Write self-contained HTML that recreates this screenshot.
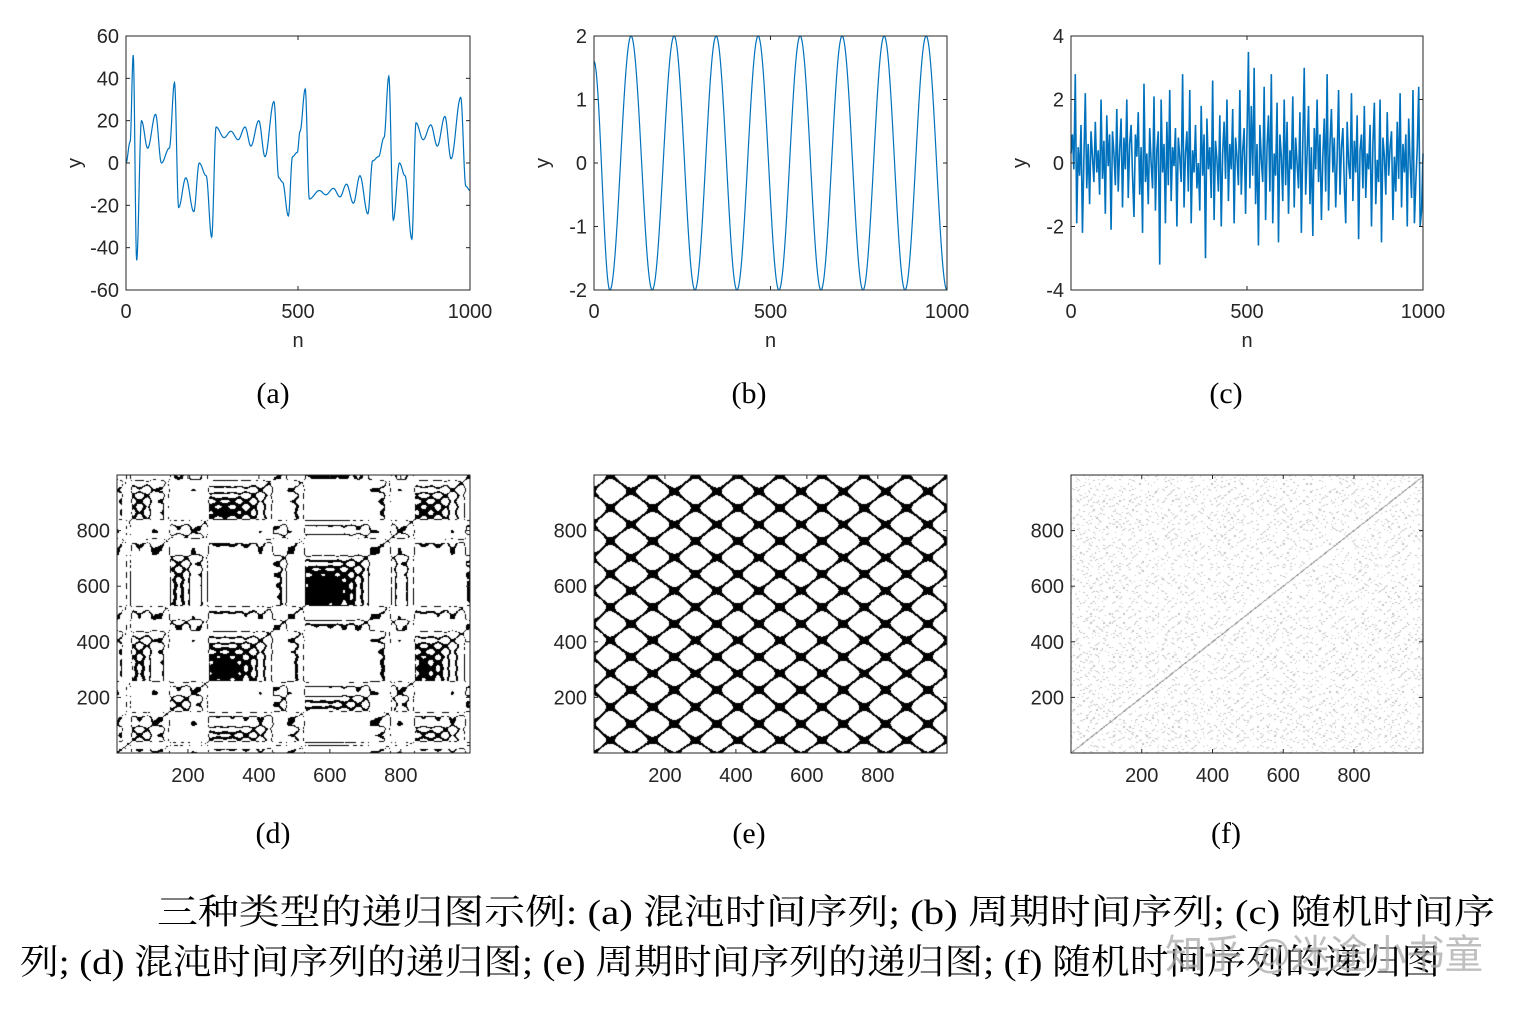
<!DOCTYPE html>
<html><head><meta charset="utf-8">
<style>
html,body{margin:0;padding:0;background:#fff;width:1522px;height:1015px;overflow:hidden;position:relative}
canvas{position:absolute}
svg{position:absolute;left:0;top:0}
</style></head>
<body>
<canvas id="cd" style="left:117px;top:475px" width="353" height="278"></canvas>
<canvas id="ce" style="left:594px;top:475px" width="353" height="278"></canvas>
<canvas id="cf" style="left:1071px;top:475px" width="352" height="278"></canvas>
<svg id="s" width="1522" height="1015" xmlns="http://www.w3.org/2000/svg"></svg>
<script>
// (a) chaotic series key points
const chaosN=[0,12,21,31,45,63,86,103,126,141,153,174,197,213,233,249,262,285,305,326,346,363,386,404,430,444,455,472,484,498,506,521,533,562,581,603,622,641,661,680,703,717,734,750,764,777,795,811,831,843,864,886,905,927,945,973,988,1000];
const chaosY=[0,10,51,-46,20,7,23,0,7,38,-21,-7,-23,0,-6,-35,17,12,15,11,17,8,20,3,29,-7,-9,-25,3,5,15,35,-17,-13,-15,-12,-16,-10,-19,-6,-24,1,3,12,41,-27,0,-6,-36,19,11,18,8,22,2,31,-11,-13];
// (b) periodic series extrema
const perN=[0,45,105,165,227,286,346,405,465,524,584,643,703,762,822,881,941,1000];
const perY=[1.6,-2,2,-2,2,-2,2,-2,2,-2,2,-2,2,-2,2,-2,2,-2];
// (c) random series values (evenly spaced over 0..1000)
const noiseY=[0.3,0.9,-0.2,2.8,-1.9,0.5,-0.4,1.2,-2.2,0.1,2.2,-0.8,0.6,-1.3,1.0,0.2,-0.6,1.3,-0.3,0.4,-1.0,2.0,-0.5,0.7,-1.6,1.5,-0.1,0.9,-2.1,1.0,0.3,-0.7,1.7,-0.9,0.4,1.4,-1.4,0.8,-0.2,2.0,-1.1,0.6,1.2,-0.4,-1.7,0.9,0.2,1.6,-1.0,0.5,-2.2,2.5,-0.6,0.3,-1.3,1.1,0.0,-0.8,2.1,-1.5,0.4,1.0,-3.2,2.0,-0.3,0.6,-1.9,1.3,-0.7,2.3,-1.2,0.5,-0.1,1.1,-2.0,0.8,0.2,-0.6,2.8,-1.4,0.3,1.0,-0.9,2.3,-1.9,0.4,-0.3,1.2,-0.8,0.0,-1.5,1.8,-0.4,0.9,-3.0,1.4,-0.2,0.5,-1.1,2.6,-1.8,0.7,0.1,-0.9,1.5,-2.0,0.3,1.3,-0.5,2.0,-1.2,0.6,-0.2,1.7,-1.9,0.8,0.2,-0.7,2.3,-1.0,0.4,1.1,-1.6,0.9,3.5,-0.8,1.8,-0.4,3.0,-1.3,0.6,-2.6,1.2,0.1,-0.6,2.4,-1.8,0.5,1.5,-0.9,2.8,-1.9,0.3,-0.4,1.9,-2.5,0.9,0.2,-1.2,2.0,-0.7,1.3,-1.6,0.4,-0.2,2.1,-1.4,0.8,0.0,-0.8,1.6,-2.2,0.6,3.0,-1.0,0.3,1.8,-1.3,0.5,-2.3,1.1,-0.2,2.0,-0.6,0.9,-1.8,0.2,1.4,-0.9,2.8,-1.5,0.6,1.7,-0.3,0.8,-1.4,0.2,2.3,-1.0,0.5,1.1,-0.7,-1.9,1.3,0.0,-0.5,2.2,-1.2,0.7,-0.3,1.5,-2.4,0.4,0.9,-0.8,1.8,-1.1,0.3,-0.2,1.2,-2.0,0.6,1.9,-1.3,0.1,-0.6,2.0,-2.5,0.8,0.2,-1.0,1.6,-0.4,0.5,1.0,-1.8,0.2,-0.9,1.3,-0.5,2.2,-1.4,0.6,-0.3,0.9,-2.0,1.4,0.0,-1.1,2.3,-1.9,-0.6,0.5,2.4,-2.0,-1.5,0.3];

const NS="http://www.w3.org/2000/svg";
const svg=document.getElementById('s');
function mk(tag,attrs,parent){const e=document.createElementNS(NS,tag);for(const k in attrs)e.setAttribute(k,attrs[k]);(parent||svg).appendChild(e);return e;}
function txt(x,y,s,size,anchor,fam,parent){const t=mk('text',{x:x,y:y,'font-size':size,'text-anchor':anchor||'middle','font-family':fam||'"Liberation Sans", sans-serif',fill:'#262626'},parent);t.textContent=s;return t;}

function evalChaos(n){for(let k=0;k<chaosN.length-1;k++){if(n<=chaosN[k+1]){const a=chaosN[k],b=chaosN[k+1];const t=(n-a)/(b-a);const s=(1-Math.cos(Math.PI*t))/2;return chaosY[k]+(chaosY[k+1]-chaosY[k])*s;}}return chaosY[chaosY.length-1];}
function evalPer(n){for(let k=0;k<perN.length-1;k++){if(n<=perN[k+1]){const a=perN[k],b=perN[k+1];const t=(n-a)/(b-a);const s=(1-Math.cos(Math.PI*t))/2;return perY[k]+(perY[k+1]-perY[k])*s;}}return perY[perY.length-1];}
function evalNoise(n){const i=Math.round(n/1000*(noiseY.length-1));return noiseY[Math.max(0,Math.min(noiseY.length-1,i))];}

const tops=[
 {name:'chaotic',x0:126,x1:470,ymin:-60,ymax:60,yt:[-60,-40,-20,0,20,40,60],f:evalChaos,cap:'(a)',cx:273,sw:1.2},
 {name:'periodic',x0:594,x1:947,ymin:-2,ymax:2,yt:[-2,-1,0,1,2],f:evalPer,cap:'(b)',cx:749,sw:1.2},
 {name:'random',x0:1071,x1:1423,ymin:-4,ymax:4,yt:[-4,-2,0,2,4],f:null,cap:'(c)',cx:1226,sw:1.6}
];
const Y0=36,Y1=290;
tops.forEach(p=>{
 const g=mk('g',{});
 
 
 const xs=n=>p.x0+(n/1000)*(p.x1-p.x0);
 const ys=v=>Y1-(v-p.ymin)/(p.ymax-p.ymin)*(Y1-Y0);
 let d='';
 if(p.f){for(let n=0;n<=1000;n+=1){d+=(n?'L':'M')+xs(n).toFixed(2)+' '+ys(p.f(n)).toFixed(2);}}
 else{noiseY.forEach((v,i)=>{d+=(i?'L':'M')+xs(i*1000/(noiseY.length-1)).toFixed(2)+' '+ys(v).toFixed(2);});}
 const line=mk('path',{d:d,fill:'none',stroke:'#0072BD','stroke-width':p.sw},g);
 
 
 const box=mk('rect',{x:p.x0,y:Y0,width:p.x1-p.x0,height:Y1-Y0,fill:'none',stroke:'#262626','stroke-width':1},g);
 
 
 [0,500,1000].forEach(n=>{const x=xs(n);mk('line',{x1:x,x2:x,y1:Y1,y2:Y1-4,stroke:'#262626'},g);mk('line',{x1:x,x2:x,y1:Y0,y2:Y0+4,stroke:'#262626'},g);
  const t=txt(x,318,String(n),20,'middle',null,g);});
 p.yt.forEach(v=>{const y=ys(v);mk('line',{x1:p.x0,x2:p.x0+4,y1:y,y2:y,stroke:'#262626'},g);mk('line',{x1:p.x1,x2:p.x1-4,y1:y,y2:y,stroke:'#262626'},g);
  const t=txt(p.x0-7,y+7,String(v),20,'end',null,g);});
 const xl=txt((p.x0+p.x1)/2,347,'n',20,'middle',null,g);
 const yl=txt(0,0,'y',20,'middle',null,g);yl.setAttribute('transform','translate('+(p.x0-45)+',163) rotate(-90)');
 
 const c=txt(p.cx,403,p.cap,30,'middle','"Liberation Serif", serif',g);c.setAttribute('fill','#000');
 
});

const bots=[
 {id:'cd',x0:117,x1:470,xmax:995,f:evalChaos,eps:4.5,col:[0,0,0],cap:'(d)',cx:273},
 {id:'ce',x0:594,x1:947,xmax:995,f:evalPer,eps:0.5,col:[0,0,0],cap:'(e)',cx:749},
 {id:'cf',x0:1071,x1:1423,xmax:995,f:evalNoise,eps:0.2,col:[195,195,195],cap:'(f)',cx:1226}
];
const B0=475,B1=753;
bots.forEach(p=>{
 const cv=document.getElementById(p.id);const ctx=cv.getContext('2d');
 const W=cv.width,H=cv.height;const img=ctx.createImageData(W,H);
 const xv=[],yv=[];
 for(let i=0;i<W;i++)xv.push(p.f((i+0.5)/W*p.xmax));
 for(let j=0;j<H;j++)yv.push(p.f((H-j-0.5)/H*1000));
 for(let j=0;j<H;j++)for(let i=0;i<W;i++){
  const k=(j*W+i)*4;let on=Math.abs(xv[i]-yv[j])<p.eps;
  const ni=(i+0.5)/W*p.xmax,nj=(H-j-0.5)/H*1000;const diag=Math.abs(ni-nj)<2;
  if(diag){const c=p.id==='cf'?140:0;img.data[k]=img.data[k+1]=img.data[k+2]=c;}
  else if(on){img.data[k]=p.col[0];img.data[k+1]=p.col[1];img.data[k+2]=p.col[2];}else{img.data[k]=img.data[k+1]=img.data[k+2]=255;}
  img.data[k+3]=255;}
 ctx.putImageData(img,0,0);
 const g=mk('g',{});
 
 
 mk('rect',{x:p.x0,y:B0,width:p.x1-p.x0,height:B1-B0,fill:'none',stroke:'#262626','stroke-width':1},g);
 const xs=n=>p.x0+n/p.xmax*(p.x1-p.x0);
 const ys=n=>B1-n/1000*(B1-B0);
 [200,400,600,800].forEach(n=>{const x=xs(n);mk('line',{x1:x,x2:x,y1:B1,y2:B1-4,stroke:'#262626'},g);mk('line',{x1:x,x2:x,y1:B0,y2:B0+4,stroke:'#262626'},g);
  const t=txt(x,782,String(n),20,'middle',null,g);
  const y=ys(n);mk('line',{x1:p.x0,x2:p.x0+4,y1:y,y2:y,stroke:'#262626'},g);mk('line',{x1:p.x1,x2:p.x1-4,y1:y,y2:y,stroke:'#262626'},g);
  const t2=txt(p.x0-7,y+7,String(n),20,'end',null,g);});
 const c=txt(p.cx,843,p.cap,30,'middle','"Liberation Serif", serif',g);c.setAttribute('fill','#000');
 
});

const fam='"Liberation Serif", "Noto Serif CJK SC", serif';
const l1=txt(157,924,'三种类型的递归图示例: (a) 混沌时间序列; (b)  周期时间序列; (c) 随机时间序',35,'start',fam);
l1.setAttribute('fill','#000');l1.setAttribute('textLength','1338');l1.setAttribute('lengthAdjust','spacingAndGlyphs');

const l2=txt(20,974,'列; (d) 混沌时间序列的递归图; (e) 周期时间序列的递归图; (f) 随机时间序列的递归图',35,'start',fam);
l2.setAttribute('fill','#000');l2.setAttribute('textLength','1420');l2.setAttribute('lengthAdjust','spacingAndGlyphs');

const wm=txt(1165,968,'知乎 @迷途小书童',40,'start','"Liberation Sans", "Noto Sans CJK SC", sans-serif');
wm.setAttribute('fill','rgba(170,170,170,0.75)');wm.setAttribute('textLength','318');wm.setAttribute('lengthAdjust','spacingAndGlyphs');

</script>
</body></html>
